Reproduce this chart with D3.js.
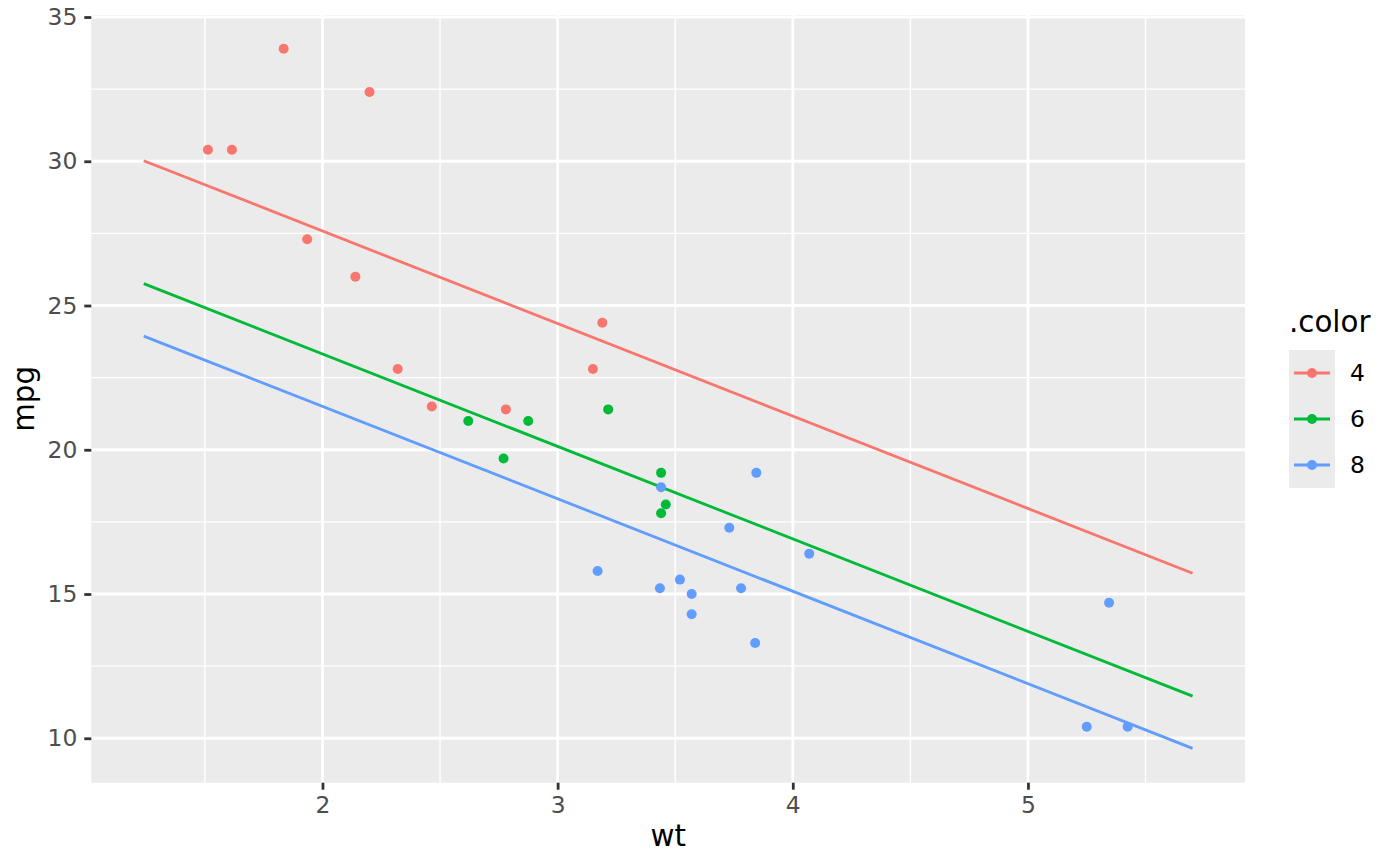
<!DOCTYPE html>
<html>
<head>
<meta charset="utf-8">
<script src="https://cdn.jsdelivr.net/npm/d3@7"></script>
<style>
  body { margin: 0; background: #fff; }
  svg { display: block; font-family: "DejaVu Sans", sans-serif; }
</style>
</head>
<body>
<svg id="viz"></svg>
<script>
// ----------------------------------------------------------------------------------------------------------------
// DATA

var wt = [2.620, 2.875, 2.320, 3.215, 3.440, 3.460, 3.570, 3.190, 3.150, 3.440, 3.440, 4.070, 3.730, 3.780,
  5.250, 5.424, 5.345, 2.200, 1.615, 1.835, 2.465, 3.520, 3.435, 3.840, 3.845, 1.935, 2.140, 1.513,
  3.170, 2.770, 3.570, 2.780];
var mpg = [21.0, 21.0, 22.8, 21.4, 18.7, 18.1, 14.3, 24.4, 22.8, 19.2, 17.8, 16.4, 17.3, 15.2,
  10.4, 10.4, 14.7, 32.4, 30.4, 33.9, 21.5, 15.5, 15.2, 13.3, 19.2, 27.3, 26.0, 30.4,
  15.8, 19.7, 15.0, 21.4];
var cyl = ["6", "6", "4", "6", "8", "6", "8", "4", "4", "6", "6", "8", "8", "8",
  "8", "8", "8", "4", "4", "4", "4", "8", "8", "8", "8", "4", "4", "4",
  "8", "6", "8", "4"];

var groups = ["4", "6", "8"];
var colors = ["#F8766D", "#00BA38", "#619CFF"];

// fitted lines, endpoints
var lineX = [1.24, 5.70];
var lineY = {
  "4": [30.02, 15.72],
  "6": [25.76, 11.46],
  "8": [23.94, 9.65]
};

var xTicks = [2, 3, 4, 5];
var xMinor = [1.5, 2.5, 3.5, 4.5, 5.5];
var yTicks = [10, 15, 20, 25, 30, 35];
var yMinor = [12.5, 17.5, 22.5, 27.5, 32.5];

// ----------------------------------------------------------------------------------------------------------------
// SETUP

var w = 1400, h = 866;
var viz = d3.select("#viz").attr("width", w).attr("height", h);

var pLeft = 91.3, pRight = 1245, pTop = 15, pBottom = 782.7;
var tickFont = "23.4px", titleFont = "29.3px";

var x = d3.scaleLinear().domain([1.017, 5.923]).range([pLeft, pRight]);
var y = d3.scaleLinear().domain([8.46, 35.07]).range([pBottom, pTop]);
var color = d3.scaleOrdinal().domain(groups).range(colors);

// panel
viz.append("rect")
  .attr("x", pLeft).attr("y", pTop)
  .attr("width", pRight - pLeft).attr("height", pBottom - pTop)
  .attr("fill", "#EBEBEB");

// grid
var grid = viz.append("g");
grid.selectAll(".xminor").data(xMinor).enter().append("line")
  .attr("x1", d => x(d)).attr("x2", d => x(d))
  .attr("y1", pTop).attr("y2", pBottom)
  .attr("stroke", "#fff").attr("stroke-width", 1.4);
grid.selectAll(".yminor").data(yMinor).enter().append("line")
  .attr("x1", pLeft).attr("x2", pRight)
  .attr("y1", d => y(d)).attr("y2", d => y(d))
  .attr("stroke", "#fff").attr("stroke-width", 1.4);
grid.selectAll(".xmajor").data(xTicks).enter().append("line")
  .attr("x1", d => x(d)).attr("x2", d => x(d))
  .attr("y1", pTop).attr("y2", pBottom)
  .attr("stroke", "#fff").attr("stroke-width", 2.8);
grid.selectAll(".ymajor").data(yTicks).enter().append("line")
  .attr("x1", pLeft).attr("x2", pRight)
  .attr("y1", d => y(d)).attr("y2", d => y(d))
  .attr("stroke", "#fff").attr("stroke-width", 2.8);

// ----------------------------------------------------------------------------------------------------------------
// CHART

// lines
var line = d3.line().x(d => x(d[0])).y(d => y(d[1]));
viz.append("g").selectAll("path")
  .data(groups)
  .enter()
  .append("path")
  .attr("d", g => line(lineX.map((v, i) => [v, lineY[g][i]])))
  .attr("fill", "none")
  .attr("stroke", g => color(g))
  .attr("stroke-width", 2.8);

// points
viz.append("g").selectAll("circle")
  .data(wt.map((v, i) => ({wt: v, mpg: mpg[i], cyl: cyl[i]})))
  .enter()
  .append("circle")
  .attr("cx", d => x(d.wt))
  .attr("cy", d => y(d.mpg))
  .attr("r", 5)
  .attr("fill", d => color(d.cyl));

// axes
var xAxis = viz.append("g")
  .attr("transform", "translate(0," + pBottom + ")")
  .call(d3.axisBottom(x).tickValues(xTicks).tickSize(7).tickPadding(7).tickFormat(d3.format("d")));
var yAxis = viz.append("g")
  .attr("transform", "translate(" + pLeft + ",0)")
  .call(d3.axisLeft(y).tickValues(yTicks).tickSize(7).tickPadding(7).tickFormat(d3.format("d")));

[xAxis, yAxis].forEach(function(a) {
  a.select(".domain").remove();
  a.selectAll(".tick line").attr("stroke", "#333333").attr("stroke-width", 2.8);
  a.selectAll(".tick text")
    .attr("fill", "#4D4D4D")
    .style("font-size", tickFont)
    .style("font-family", "DejaVu Sans, sans-serif");
});

// axis titles
viz.append("text")
  .attr("x", (pLeft + pRight) / 2).attr("y", 845.5)
  .attr("text-anchor", "middle")
  .style("font-size", titleFont)
  .text("wt");
viz.append("text")
  .attr("transform", "translate(34," + ((pTop + pBottom) / 2) + ") rotate(-90)")
  .attr("text-anchor", "middle")
  .style("font-size", titleFont)
  .text("mpg");

// ----------------------------------------------------------------------------------------------------------------
// LEGEND

var legend = viz.append("g").attr("transform", "translate(1289,350)");
legend.append("text")
  .attr("x", 0).attr("y", -18)
  .style("font-size", titleFont)
  .text(".color");
legend.append("rect")
  .attr("width", 46).attr("height", 138)
  .attr("fill", "#EBEBEB");
var keys = legend.selectAll(".key").data(groups).enter().append("g")
  .attr("transform", (d, i) => "translate(0," + (23 + i * 46) + ")");
keys.append("line")
  .attr("x1", 5).attr("x2", 41)
  .attr("stroke", d => color(d)).attr("stroke-width", 2.8);
keys.append("circle")
  .attr("cx", 23).attr("r", 5)
  .attr("fill", d => color(d));
keys.append("text")
  .attr("x", 61).attr("dy", "0.36em")
  .style("font-size", tickFont)
  .text(d => d);
</script>
</body>
</html>
